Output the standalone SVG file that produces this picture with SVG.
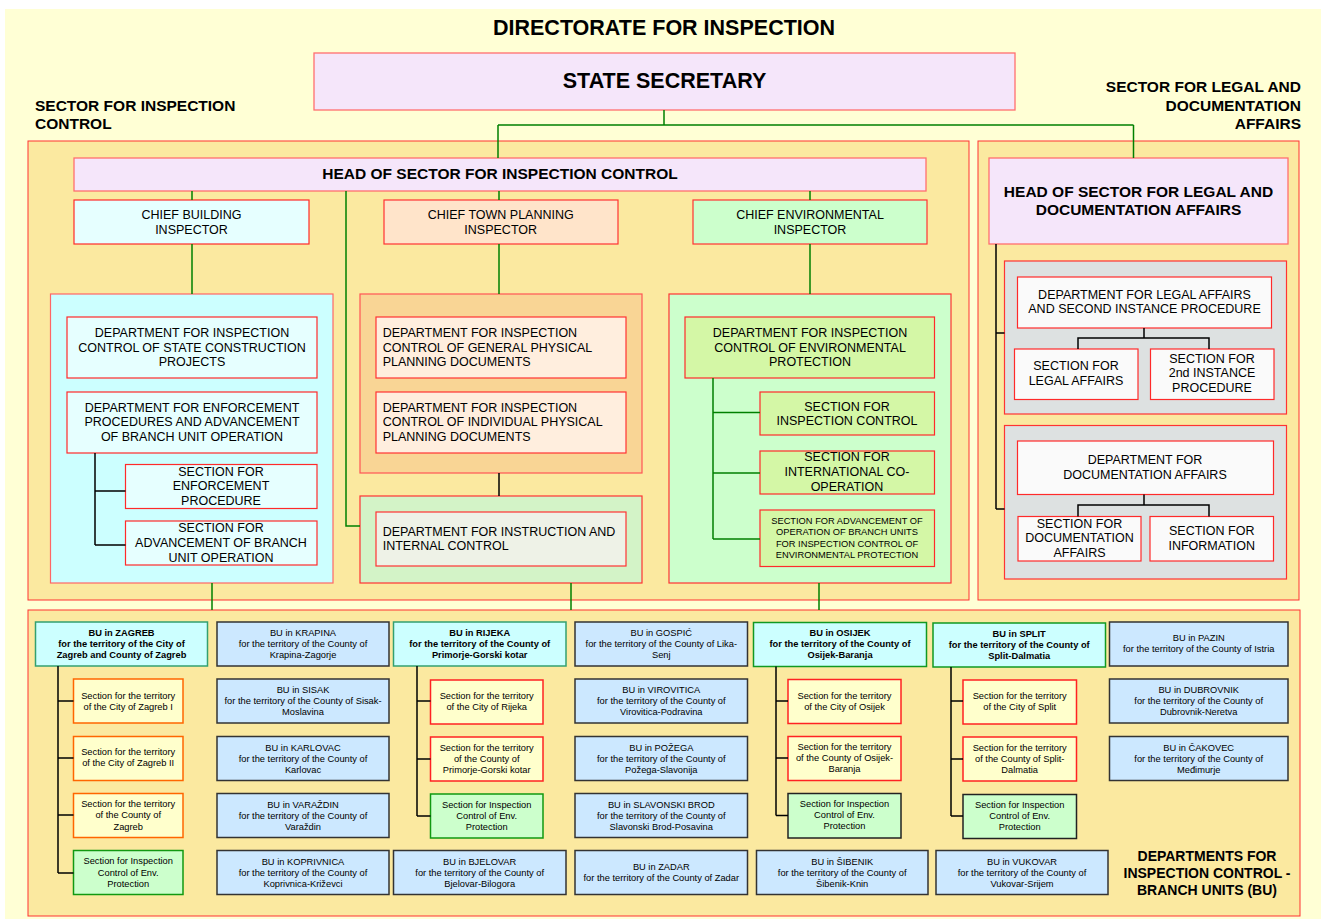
<svg xmlns="http://www.w3.org/2000/svg" width="1324" height="919" viewBox="0 0 1324 919">
<style>
text{font-family:"Liberation Sans",Arial,sans-serif;fill:#000;text-anchor:middle}
.b{font-weight:bold}
.xl{font-size:21.5px}
.l{font-size:15.5px}
.m{font-size:12.5px}
.s{font-size:9.3px}
.st{text-anchor:start}
.en{text-anchor:end}
.sec{fill:#FBE9A0;stroke:#FF3333;stroke-width:1}
.head{fill:#F5E6FA;stroke:#FF6F6F;stroke-width:1.3}
.cyan{fill:#E6FFFF;stroke:#FF2A2A;stroke-width:1.2}
.cyanp{fill:#CCFFFF;stroke:#FF6666;stroke-width:1.2}
.peach{fill:#FFE4CA;stroke:#FF3333;stroke-width:1.2}
.orp{fill:#F9D595;stroke:#FF5555;stroke-width:1.2}
.ord{fill:#FFEEDE;stroke:#FF3333;stroke-width:1.2}
.grp{fill:#D3F3C7;stroke:#FF3333;stroke-width:1.2}
.grd{fill:#EEF2E7;stroke:#FF3333;stroke-width:1.2}
.lg{fill:#CCFFCC;stroke:#FF3333;stroke-width:1.2}
.lgd{fill:#D4F7A6;stroke:#FF2A2A;stroke-width:1.2}
.gry{fill:#DDE1E1;stroke:#FF3333;stroke-width:1.2}
.wh{fill:#FAFAFA;stroke:#FF2A2A;stroke-width:1.2}
.bug{fill:#CCFFFF;stroke:#33A070;stroke-width:1.5}
.bug2{fill:#CCFFFF;stroke:#119922;stroke-width:1.5}
.bub{fill:#CCE8FF;stroke:#333333;stroke-width:1.5}
.so{fill:#FFFFCC;stroke:#FF6600;stroke-width:1.5}
.sr{fill:#FFFFCC;stroke:#FF2222;stroke-width:1.5}
.sg{fill:#CCFFCC;stroke:#119911;stroke-width:1.5}
.sk{fill:#CCFFCC;stroke:#222222;stroke-width:1.5}
.gl{fill:none;stroke:#008000;stroke-width:1.5}
.bl{fill:none;stroke:#000;stroke-width:1.5}
</style>
<rect x="5" y="9" width="1316" height="910" fill="#FFFFD5"/>
<text class="b xl" x="664" y="35">DIRECTORATE FOR INSPECTION</text>
<text class="b l st" x="35" y="111">SECTOR FOR INSPECTION</text>
<text class="b l st" x="35" y="128.5">CONTROL</text>
<text class="b l en" x="1301" y="92">SECTOR FOR LEGAL AND</text>
<text class="b l en" x="1301" y="110.5">DOCUMENTATION</text>
<text class="b l en" x="1301" y="129">AFFAIRS</text>

<rect class="sec" x="28" y="141" width="941" height="459"/>
<rect class="sec" x="978" y="141" width="321" height="459"/>
<rect class="sec" x="28" y="610" width="1272" height="306"/>

<g id="state-secretary"><rect class="head" x="314" y="53" width="701" height="57"/><text class="b xl" x="664.5" y="88">STATE SECRETARY</text></g>
<g id="head-inspection"><rect class="head" x="74" y="158" width="852" height="33"/><text class="b l" x="500" y="179">HEAD OF SECTOR FOR INSPECTION CONTROL</text></g>
<g id="head-legal"><rect class="head" x="989" y="158" width="299" height="86"/><text class="b l" x="1138.5" y="196.5">HEAD OF SECTOR FOR LEGAL AND</text><text class="b l" x="1138.5" y="215">DOCUMENTATION AFFAIRS</text></g>

<g id="chief-building"><rect class="cyan" x="74" y="200" width="235" height="44"/><text class="m" x="191.5" y="219.3">CHIEF BUILDING</text><text class="m" x="191.5" y="233.7">INSPECTOR</text></g>
<g id="chief-town"><rect class="peach" x="384" y="200" width="234" height="44"/><text class="m" x="500.7" y="219.3">CHIEF TOWN PLANNING</text><text class="m" x="500.7" y="233.7">INSPECTOR</text></g>
<g id="chief-env"><rect class="lg" x="693" y="200" width="234" height="44"/><text class="m" x="810" y="219.3">CHIEF ENVIRONMENTAL</text><text class="m" x="810" y="233.7">INSPECTOR</text></g>

<g id="panel-building"><rect class="cyanp" x="50.5" y="294" width="282.5" height="289"/></g>
<g id="panel-planning"><rect class="orp" x="360" y="294" width="282" height="179"/></g>
<g id="panel-instruction"><rect class="grp" x="360" y="496" width="282" height="87"/></g>
<g id="panel-env"><rect class="lg" x="669" y="294" width="282" height="289"/></g>
<g id="panel-legal"><rect class="gry" x="1004.5" y="261" width="282" height="153"/></g>
<g id="panel-doc"><rect class="gry" x="1004.5" y="425.5" width="282" height="153.5"/></g>

<g id="dept-state-construction"><rect class="cyan" x="67" y="317" width="250" height="61"/><text class="m" x="192" y="337.3">DEPARTMENT FOR INSPECTION</text><text class="m" x="192" y="352">CONTROL OF STATE CONSTRUCTION</text><text class="m" x="192" y="366">PROJECTS</text></g>
<g id="dept-enforcement"><rect class="cyan" x="67" y="392" width="250" height="61"/><text class="m" x="192" y="411.7">DEPARTMENT FOR ENFORCEMENT</text><text class="m" x="192" y="426.3">PROCEDURES AND ADVANCEMENT</text><text class="m" x="192" y="441">OF BRANCH UNIT OPERATION</text></g>
<g id="sec-enforcement"><rect class="cyan" x="125.5" y="464.5" width="191.5" height="44"/><text class="m" x="221" y="475.7">SECTION FOR</text><text class="m" x="221" y="490.3">ENFORCEMENT</text><text class="m" x="221" y="505">PROCEDURE</text></g>
<g id="sec-advancement-bu"><rect class="cyan" x="125.5" y="521" width="191.5" height="44"/><text class="m" x="221" y="532.3">SECTION FOR</text><text class="m" x="221" y="547.3">ADVANCEMENT OF BRANCH</text><text class="m" x="221" y="562.3">UNIT OPERATION</text></g>

<g id="dept-general-planning"><rect class="ord" x="376" y="317" width="250" height="61"/><text class="m st" x="382.7" y="337.3">DEPARTMENT FOR INSPECTION</text><text class="m st" x="382.7" y="352">CONTROL OF GENERAL PHYSICAL</text><text class="m st" x="382.7" y="366">PLANNING DOCUMENTS</text></g>
<g id="dept-individual-planning"><rect class="ord" x="376" y="392" width="250" height="61"/><text class="m st" x="382.7" y="411.7">DEPARTMENT FOR INSPECTION</text><text class="m st" x="382.7" y="426.3">CONTROL OF INDIVIDUAL PHYSICAL</text><text class="m st" x="382.7" y="441">PLANNING DOCUMENTS</text></g>
<g id="dept-instruction"><rect class="grd" x="376" y="512" width="250" height="54"/><text class="m st" x="382.7" y="536.3">DEPARTMENT FOR INSTRUCTION AND</text><text class="m st" x="382.7" y="550.3">INTERNAL CONTROL</text></g>

<g id="dept-env"><rect class="lgd" x="685" y="317" width="249.5" height="61"/><text class="m" x="810" y="337.3">DEPARTMENT FOR INSPECTION</text><text class="m" x="810" y="352">CONTROL OF ENVIRONMENTAL</text><text class="m" x="810" y="366">PROTECTION</text></g>
<g id="sec-inspection-control"><rect class="lgd" x="760" y="392" width="174.5" height="43"/><text class="m" x="847" y="410.7">SECTION FOR</text><text class="m" x="847" y="425.3">INSPECTION CONTROL</text></g>
<g id="sec-international"><rect class="lgd" x="760" y="451" width="174.5" height="43"/><text class="m" x="847" y="461">SECTION FOR</text><text class="m" x="847" y="476.3">INTERNATIONAL CO-</text><text class="m" x="847" y="491">OPERATION</text></g>
<g id="sec-advancement-env"><rect class="lgd" x="760" y="510" width="174.5" height="56.5"/><text class="s" x="847" y="524">SECTION FOR ADVANCEMENT OF</text><text class="s" x="847" y="535">OPERATION OF BRANCH UNITS</text><text class="s" x="847" y="546.7">FOR INSPECTION CONTROL OF</text><text class="s" x="847" y="558">ENVIRONMENTAL PROTECTION</text></g>

<g id="dept-legal"><rect class="wh" x="1017.5" y="277" width="254" height="51"/><text class="m" x="1144.5" y="298.7">DEPARTMENT FOR LEGAL AFFAIRS</text><text class="m" x="1144.5" y="313.3">AND SECOND INSTANCE PROCEDURE</text></g>
<g id="sec-legal"><rect class="wh" x="1014.5" y="349" width="123.5" height="50.5"/><text class="m" x="1076" y="370.3">SECTION FOR</text><text class="m" x="1076" y="385.3">LEGAL AFFAIRS</text></g>
<g id="sec-2nd"><rect class="wh" x="1150.5" y="349" width="123.5" height="50.5"/><text class="m" x="1212" y="363.3">SECTION FOR</text><text class="m" x="1212" y="377.3">2nd INSTANCE</text><text class="m" x="1212" y="392.3">PROCEDURE</text></g>
<g id="dept-doc"><rect class="wh" x="1017.5" y="441" width="256" height="53.5"/><text class="m" x="1145" y="464.3">DEPARTMENT FOR</text><text class="m" x="1145" y="479">DOCUMENTATION AFFAIRS</text></g>
<g id="sec-doc"><rect class="wh" x="1018" y="516.5" width="123" height="44.5"/><text class="m" x="1079.5" y="528.3">SECTION FOR</text><text class="m" x="1079.5" y="542.3">DOCUMENTATION</text><text class="m" x="1079.5" y="557.3">AFFAIRS</text></g>
<g id="sec-info"><rect class="wh" x="1150" y="516.5" width="123.5" height="44.5"/><text class="m" x="1211.7" y="535.3">SECTION FOR</text><text class="m" x="1211.7" y="550.3">INFORMATION</text></g>

<!-- Branch units -->
<g id="bu-zagreb"><rect class="bug" x="35.5" y="622" width="172" height="44"/><text class="s b" x="121.5" y="636.3" fill="#333300">BU in ZAGREB</text><text class="s b" x="121.5" y="647.3">for the territory of the City of</text><text class="s b" x="121.5" y="658.3">Zagreb and County of Zagreb</text></g>
<g id="bu-krapina"><rect class="bub" x="217" y="622" width="172" height="44"/><text class="s" x="303" y="636.3">BU in KRAPINA</text><text class="s" x="303" y="647.3">for the territory of the County of</text><text class="s" x="303" y="658.3">Krapina-Zagorje</text></g>
<g id="bu-rijeka"><rect class="bug" x="393.5" y="622" width="172.5" height="44"/><text class="s b" x="479.7" y="636.3">BU in RIJEKA</text><text class="s b" x="479.7" y="647.3">for the territory of the County of</text><text class="s b" x="479.7" y="658.3">Primorje-Gorski kotar</text></g>
<g id="bu-gospic"><rect class="bub" x="575" y="622" width="172.5" height="44"/><text class="s" x="661.3" y="636.3">BU in GOSPIĆ</text><text class="s" x="661.3" y="647.3">for the territory of the County of Lika-</text><text class="s" x="661.3" y="658.3">Senj</text></g>
<g id="bu-osijek"><rect class="bug2" x="753.5" y="622.5" width="173" height="44"/><text class="s b" x="840" y="636.3">BU in OSIJEK</text><text class="s b" x="840" y="647.3">for the territory of the County of</text><text class="s b" x="840" y="658.3">Osijek-Baranja</text></g>
<g id="bu-split"><rect class="bug2" x="933" y="623" width="172.5" height="44"/><text class="s b" x="1019.2" y="636.8">BU in SPLIT</text><text class="s b" x="1019.2" y="647.8">for the territory of the County of</text><text class="s b" x="1019.2" y="658.8">Split-Dalmatia</text></g>
<g id="bu-pazin"><rect class="bub" x="1109.5" y="622" width="178.5" height="44"/><text class="s" x="1198.7" y="641">BU in PAZIN</text><text class="s" x="1198.7" y="652">for the territory of the County of Istria</text></g>

<g id="bu-sisak"><rect class="bub" x="217" y="679" width="172" height="44"/><text class="s" x="303" y="693.3">BU in SISAK</text><text class="s" x="303" y="704.3">for the territory of the County of Sisak-</text><text class="s" x="303" y="715.3">Moslavina</text></g>
<g id="bu-karlovac"><rect class="bub" x="217" y="736.5" width="172" height="44"/><text class="s" x="303" y="750.8">BU in KARLOVAC</text><text class="s" x="303" y="761.8">for the territory of the County of</text><text class="s" x="303" y="772.8">Karlovac</text></g>
<g id="bu-varazdin"><rect class="bub" x="217" y="793.5" width="172" height="44"/><text class="s" x="303" y="807.8">BU in VARAŽDIN</text><text class="s" x="303" y="818.8">for the territory of the County of</text><text class="s" x="303" y="829.8">Varaždin</text></g>
<g id="bu-koprivnica"><rect class="bub" x="217" y="850.5" width="172" height="44"/><text class="s" x="303" y="864.8">BU in KOPRIVNICA</text><text class="s" x="303" y="875.8">for the territory of the County of</text><text class="s" x="303" y="886.8">Koprivnica-Križevci</text></g>

<g id="bu-virovitica"><rect class="bub" x="575" y="679" width="172.5" height="44"/><text class="s" x="661.3" y="693.3">BU in VIROVITICA</text><text class="s" x="661.3" y="704.3">for the territory of the County of</text><text class="s" x="661.3" y="715.3">Virovitica-Podravina</text></g>
<g id="bu-pozega"><rect class="bub" x="575" y="736.5" width="172.5" height="44"/><text class="s" x="661.3" y="750.8">BU in POŽEGA</text><text class="s" x="661.3" y="761.8">for the territory of the County of</text><text class="s" x="661.3" y="772.8">Požega-Slavonija</text></g>
<g id="bu-slavonski-brod"><rect class="bub" x="575" y="793.5" width="172.5" height="44"/><text class="s" x="661.3" y="807.8">BU in SLAVONSKI BROD</text><text class="s" x="661.3" y="818.8">for the territory of the County of</text><text class="s" x="661.3" y="829.8">Slavonski Brod-Posavina</text></g>
<g id="bu-zadar"><rect class="bub" x="575" y="850.5" width="172.5" height="44"/><text class="s" x="661.3" y="870">BU in ZADAR</text><text class="s" x="661.3" y="881">for the territory of the County of Zadar</text></g>
<g id="bu-bjelovar"><rect class="bub" x="393.5" y="850.5" width="172.5" height="44"/><text class="s" x="479.7" y="864.8">BU in BJELOVAR</text><text class="s" x="479.7" y="875.8">for the territory of the County of</text><text class="s" x="479.7" y="886.8">Bjelovar-Bilogora</text></g>
<g id="bu-sibenik"><rect class="bub" x="756.5" y="850.5" width="171.5" height="44"/><text class="s" x="842.2" y="864.8">BU in ŠIBENIK</text><text class="s" x="842.2" y="875.8">for the territory of the County of</text><text class="s" x="842.2" y="886.8">Šibenik-Knin</text></g>
<g id="bu-vukovar"><rect class="bub" x="936" y="850.5" width="172" height="44"/><text class="s" x="1022" y="864.8">BU in VUKOVAR</text><text class="s" x="1022" y="875.8">for the territory of the County of</text><text class="s" x="1022" y="886.8">Vukovar-Srijem</text></g>
<g id="bu-dubrovnik"><rect class="bub" x="1109.5" y="679" width="178.5" height="44"/><text class="s" x="1198.7" y="693.3">BU in DUBROVNIK</text><text class="s" x="1198.7" y="704.3">for the territory of the County of</text><text class="s" x="1198.7" y="715.3">Dubrovnik-Neretva</text></g>
<g id="bu-cakovec"><rect class="bub" x="1109.5" y="736.5" width="178.5" height="44"/><text class="s" x="1198.7" y="750.8">BU in ČAKOVEC</text><text class="s" x="1198.7" y="761.8">for the territory of the County of</text><text class="s" x="1198.7" y="772.8">Međimurje</text></g>

<!-- Sections Zagreb -->
<g id="sec-zagreb-1"><rect class="so" x="73.5" y="679" width="109.5" height="44"/><text class="s" x="128.2" y="699.3">Section for the territory</text><text class="s" x="128.2" y="710.3">of the City of Zagreb I</text></g>
<g id="sec-zagreb-2"><rect class="so" x="73.5" y="736.5" width="109.5" height="44"/><text class="s" x="128.2" y="755.3">Section for the territory</text><text class="s" x="128.2" y="766.3">of the City of Zagreb II</text></g>
<g id="sec-zagreb-county"><rect class="so" x="73.5" y="793.5" width="109.5" height="44"/><text class="s" x="128.2" y="807.3">Section for the territory</text><text class="s" x="128.2" y="818.3">of the County of</text><text class="s" x="128.2" y="830">Zagreb</text></g>
<g id="sec-zagreb-env"><rect class="sg" x="73.5" y="850.5" width="109.5" height="44"/><text class="s" x="128.2" y="864.3">Section for Inspection</text><text class="s" x="128.2" y="876">Control of Env.</text><text class="s" x="128.2" y="887.3">Protection</text></g>
<!-- Sections Rijeka -->
<g id="sec-rijeka-city"><rect class="sr" x="430.5" y="680" width="112.5" height="44"/><text class="s" x="486.7" y="699.3">Section for the territory</text><text class="s" x="486.7" y="710.3">of the City of Rijeka</text></g>
<g id="sec-rijeka-county"><rect class="sr" x="430.5" y="737" width="112.5" height="44"/><text class="s" x="486.7" y="751.3">Section for the territory</text><text class="s" x="486.7" y="762.3">of the County of</text><text class="s" x="486.7" y="773.3">Primorje-Gorski kotar</text></g>
<g id="sec-rijeka-env"><rect class="sg" x="430.5" y="794" width="112.5" height="44"/><text class="s" x="486.7" y="808.3">Section for Inspection</text><text class="s" x="486.7" y="819.3">Control of Env.</text><text class="s" x="486.7" y="830.3">Protection</text></g>
<!-- Sections Osijek -->
<g id="sec-osijek-city"><rect class="sr" x="788" y="679.5" width="113" height="44"/><text class="s" x="844.5" y="699.3">Section for the territory</text><text class="s" x="844.5" y="710.3">of the City of Osijek</text></g>
<g id="sec-osijek-county"><rect class="sr" x="788" y="736.5" width="113" height="44"/><text class="s" x="844.5" y="750.3">Section for the territory</text><text class="s" x="844.5" y="761.3">of the County of Osijek-</text><text class="s" x="844.5" y="772.3">Baranja</text></g>
<g id="sec-osijek-env"><rect class="sk" x="788" y="793.5" width="113" height="44.5"/><text class="s" x="844.5" y="807.3">Section for Inspection</text><text class="s" x="844.5" y="818.3">Control of Env.</text><text class="s" x="844.5" y="829.3">Protection</text></g>
<!-- Sections Split -->
<g id="sec-split-city"><rect class="sr" x="963" y="680" width="113.5" height="44"/><text class="s" x="1019.7" y="699.3">Section for the territory</text><text class="s" x="1019.7" y="710.3">of the City of Split</text></g>
<g id="sec-split-county"><rect class="sr" x="963" y="737" width="113.5" height="44"/><text class="s" x="1019.7" y="751.3">Section for the territory</text><text class="s" x="1019.7" y="762.3">of the County of Split-</text><text class="s" x="1019.7" y="773.3">Dalmatia</text></g>
<g id="sec-split-env"><rect class="sk" x="963" y="794.5" width="113.5" height="44"/><text class="s" x="1019.7" y="808.3">Section for Inspection</text><text class="s" x="1019.7" y="819.3">Control of Env.</text><text class="s" x="1019.7" y="830.3">Protection</text></g>

<g id="bu-label"><text class="b" x="1207" y="860.5" style="font-size:14px">DEPARTMENTS FOR</text><text class="b" x="1207" y="877.5" style="font-size:14px">INSPECTION CONTROL -</text><text class="b" x="1207" y="894.5" style="font-size:14px">BRANCH UNITS (BU)</text></g>

<g id="connectors">
<path class="gl" d="M664,110V125M498,125H1133.5M498,125V158M1133.5,125V158"/>
<path class="gl" d="M192,191V200M499,191V200M810,191V200M192,244V294M499,244V294M810,244V294"/>
<path class="gl" d="M346,191V526H360"/>
<path class="gl" d="M713,378V539M713,412.5H760M713,473H760M713,539H760"/>
<path class="gl" d="M212,583V610M571,583V610M819,583V610"/>
<path class="bl" d="M499,473V496"/>
<path class="bl" d="M95,453V545M95,491H125.5M95,545H125.5"/>
<path class="bl" d="M996,244V509M996,333H1004.5M996,509H1004.5"/>
<path class="bl" d="M1144,328V338M1078,349V338H1209V349"/>
<path class="bl" d="M1144,494.5V505M1078,516.5V505H1209V516.5"/>
<path class="bl" d="M58,666V873M58,701H73.5M58,758H73.5M58,815H73.5M58,873H73.5"/>
<path class="bl" d="M417,666V816M417,701H430.5M417,759H430.5M417,816H430.5"/>
<path class="bl" d="M776,666.5V815.5M776,701H788M776,758H788M776,815.5H788"/>
<path class="bl" d="M951,667V816M951,701H963M951,759H963M951,816H963"/>
</g>
</svg>
